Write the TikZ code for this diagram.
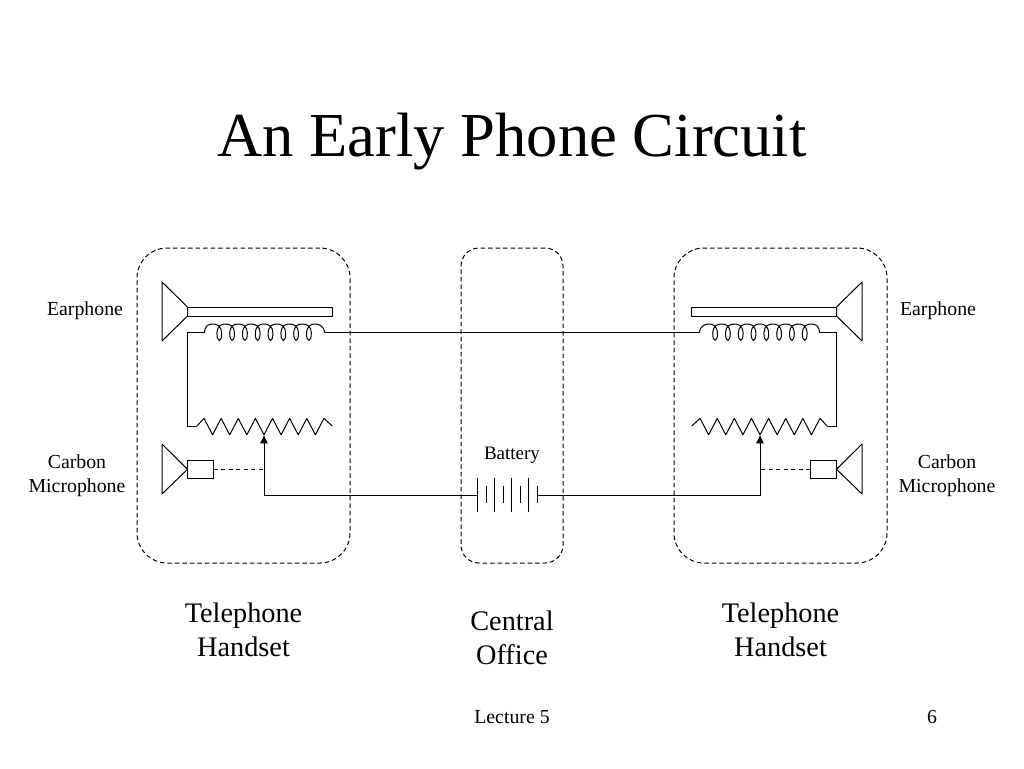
\documentclass[tikz,border=0pt]{standalone}
\usepackage{fontspec}
\setmainfont{Liberation Serif}
\usetikzlibrary{arrows.meta,positioning}

\begin{document}
\begin{tikzpicture}[
    x=1pt, y=-1pt,
    wire/.style={draw, line width=1pt},
    probe/.style={draw, line width=1pt, dash pattern=on 4pt off 3.5pt},
    zone/.style={rectangle, draw, line width=1pt, dash pattern=on 4.5pt off 3pt, minimum height=315pt, inner sep=0pt},
    earbar/.style={rectangle, draw, line width=1pt, minimum width=145pt, minimum height=9pt, inner sep=0pt},
    micbox/.style={rectangle, draw, line width=1pt, minimum width=25.5pt, minimum height=17.5pt, inner sep=0pt},
    partname/.style={font=\fontsize{19.8}{24}\selectfont, align=center, inner sep=0pt},
    placename/.style={font=\fontsize{28.3}{34}\selectfont, align=center, inner sep=0pt},
    footer/.style={font=\fontsize{19.8}{24}\selectfont, inner sep=0pt}
]
\useasboundingbox (0,0) rectangle (1024,768);

% Title
\node[font=\fontsize{62.6}{70}\selectfont, inner sep=0pt] (title) at (512,141.5) {An Early Phone Circuit};

% Both handsets, the right one is the left one mirrored
\foreach \s/\sh/\sc in {left/0pt/1, right/1024pt/-1} {
\begin{scope}[xshift=\sh, xscale=\sc]
    \node[zone, minimum width=213pt, rounded corners=30pt] (handset-\s) at (243.5,405.5) {};
    \node[placename, below=39pt of handset-\s] (handset-name-\s) {Telephone\\Handset};

    % Earphone
    \draw[wire, line join=round] (162,282) -- (187.5,307) -- (187.5,316) -- (162,341) -- cycle;
    \node[earbar] (bar-\s) at (260.2,311.5) {};

    % Coil
    \coordinate (coil-in-\s) at (204.4,332.8);
    \coordinate (coil-out-\s) at (325,332.8);
    \coordinate (coil-turn-\s) at (187.5,332.8);
    \draw[wire] (coil-in-\s)
        foreach \k in {0,...,7} {
            .. controls (206.5+12.8*\k-1.6,325.5) and (206.5+12.8*\k+2,324) .. (206.5+12.8*\k+6.4,324)
            .. controls (206.5+12.8*\k+10.4,324) and (206.5+12.8*\k+15,326) .. (206.5+12.8*\k+15.2,332.8)
            .. controls (206.5+12.8*\k+15.2,338) and (206.5+12.8*\k+14.2,340.4) .. (206.5+12.8*\k+12.8,340.4)
            .. controls (206.5+12.8*\k+11.4,340.4) and (206.5+12.8*\k+10.4,338) .. (206.5+12.8*\k+10.4,332.8)
        }
        .. controls (307.4,325.5) and (311,324) .. (315.3,324)
        .. controls (319.3,324) and (323.5,326) .. (coil-out-\s);

    % Carbon resistance
    \coordinate (zig-in-\s) at (197,426);
    \coordinate (zig-turn-\s) at (187.5,426);
    \draw[wire, line join=round] (zig-in-\s)
        foreach \k in {0,...,6} {
            -- (204+17.13*\k,418.4) -- (212.6+17.13*\k,434.8)
        }
        -- (323.9,418.4) -- (332.3,426);
    \coordinate (wiper-\s) at (264,435.4);

    % Loop between coil and resistance
    \draw[wire] (coil-in-\s) -- (coil-turn-\s) -- (zig-turn-\s) -- (zig-in-\s);

    % Microphone
    \draw[wire, line join=round] (162,444) -- (187.5,469.3) -- (162,494) -- cycle;
    \node[micbox] (mic-\s) at (200.3,469.3) {};
    \coordinate (tap-\s) at (264,469.3);
    \draw[probe] (mic-\s) -- (tap-\s);
\end{scope}
}

% Central office
\node[zone, minimum width=102pt, rounded corners=18pt] (office) at (512,405.5) {};
\node[placename, below=47pt of office] (office-name) {Central\\Office};

% Battery
\foreach \k in {0,...,3} {
    \draw[wire] (477.7+17*\k,478) -- (477.7+17*\k,512);
    \draw[wire] (486.3+17*\k,486) -- (486.3+17*\k,503);
}
\coordinate (bat-in) at (477.7,495);
\coordinate (bat-out) at (537.3,495);
\node[partname, font=\fontsize{19}{24}\selectfont] (bat-name) at (512,455.5) {Battery};

% Line between handsets and battery feed
\draw[wire] (coil-out-left) -- (coil-out-right);
\draw[wire, -{Triangle[width=7.5pt,length=8pt]}] (bat-in) -| (wiper-left);
\draw[wire, -{Triangle[width=7.5pt,length=8pt]}] (bat-out) -| (wiper-right);

% Part names
\node[partname] (ear-name-left) at (85,310.5) {Earphone};
\node[partname] (ear-name-right) at (938,310.5) {Earphone};
\node[partname] (mic-name-left) at (77,476) {Carbon\\Microphone};
\node[partname] (mic-name-right) at (947,476) {Carbon\\Microphone};

% Footer
\node[footer] (lecture) at (512,717) {Lecture 5};
\node[footer] (page) at (932,717) {6};

\end{tikzpicture}
\end{document}
